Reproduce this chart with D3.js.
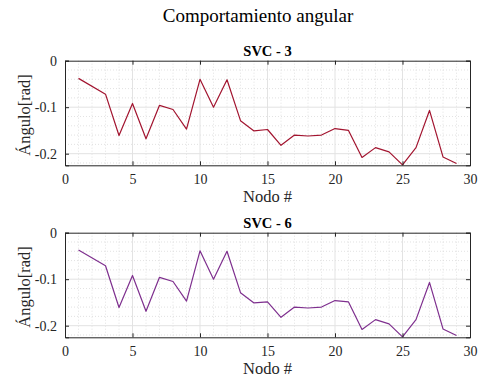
<!DOCTYPE html>
<html>
<head>
<meta charset="utf-8">
<script src="https://cdn.jsdelivr.net/npm/d3@7"></script>
<style>
  body { margin: 0; background: #fff; font-family: "Liberation Serif", serif; }
  svg { display: block; }
  text { font-family: "Liberation Serif", serif; }
  .major line { stroke: #e3e3e3; stroke-width: 1; }
  .minor line { stroke: #d6d6d6; stroke-width: 0.7; stroke-dasharray: 1 2; }
</style>
</head>
<body>
<div id="chart"></div>
<script>
// nodes (node 2 not reported)
const nodes = [1, 3, 4, 5, 6, 7, 8, 9, 10, 11, 12, 13, 14, 15, 16, 17, 18, 19, 20,
  21, 22, 23, 24, 25, 26, 27, 28, 29];

const svc3 = [-0.038, -0.072, -0.161, -0.092, -0.168, -0.096, -0.105, -0.147, -0.040,
  -0.100, -0.041, -0.129, -0.151, -0.148, -0.182, -0.160, -0.162, -0.160, -0.146,
  -0.150, -0.208, -0.187, -0.196, -0.224, -0.187, -0.107, -0.207, -0.221];

const svc6 = [-0.037, -0.071, -0.161, -0.092, -0.169, -0.096, -0.105, -0.147, -0.039,
  -0.100, -0.040, -0.129, -0.151, -0.149, -0.182, -0.160, -0.162, -0.160, -0.146,
  -0.149, -0.208, -0.187, -0.196, -0.224, -0.187, -0.107, -0.207, -0.221];

const xTicks = [0, 5, 10, 15, 20, 25, 30];
const yTicks = [0, -0.1, -0.2];

const panels = [
  { title: "SVC - 3", values: svc3, color: "#A2142F", top: 60.7 },
  { title: "SVC - 6", values: svc6, color: "#7E2F8E", top: 232.7 },
];

const FONT = "Liberation Serif";
const width = 480, height = 378;
const plotW = { left: 65, right: 470 };
const plotH = 104.6;

const svg = d3.select("#chart").append("svg")
  .attr("width", width).attr("height", height)
  .attr("font-family", FONT);

svg.append("text")
  .attr("x", 258).attr("y", 22)
  .attr("text-anchor", "middle")
  .attr("font-size", 19)
  .attr("fill", "#000")
  .text("Comportamiento angular");

const x = d3.scaleLinear().domain([0, 30]).range([plotW.left, plotW.right]);

panels.forEach((p) => {
  const y = d3.scaleLinear().domain([-0.225, 0]).range([p.top + plotH, p.top]);
  const g = svg.append("g");
  const x0 = plotW.left, x1 = plotW.right, y0 = p.top, y1 = p.top + plotH;

  // minor grid
  const minor = g.append("g").attr("class", "minor");
  minor.selectAll(".mx").data(d3.range(1, 30).filter((d) => d % 5 !== 0))
    .join("line")
    .attr("x1", (d) => x(d)).attr("x2", (d) => x(d))
    .attr("y1", y0).attr("y2", y1);
  minor.selectAll(".my").data(d3.range(-0.22, 0, 0.02).filter((d) => Math.abs(Math.round(d * 10) - d * 10) > 1e-6))
    .join("line")
    .attr("x1", x0).attr("x2", x1)
    .attr("y1", (d) => y(d)).attr("y2", (d) => y(d));

  // major grid
  const major = g.append("g").attr("class", "major");
  major.selectAll(".gx").data(xTicks.slice(1, -1)).join("line")
    .attr("x1", (d) => x(d)).attr("x2", (d) => x(d))
    .attr("y1", y0).attr("y2", y1);
  major.selectAll(".gy").data(yTicks.slice(1)).join("line")
    .attr("x1", x0).attr("x2", x1)
    .attr("y1", (d) => y(d)).attr("y2", (d) => y(d));

  // data line
  g.append("path")
    .datum(nodes.map((n, i) => [n, p.values[i]]))
    .attr("fill", "none")
    .attr("stroke", p.color)
    .attr("stroke-width", 1.2)
    .attr("stroke-linejoin", "round")
    .attr("d", d3.line().x((d) => x(d[0])).y((d) => y(d[1])));

  // axes (ticks inward, box)
  const tick = 4;
  const styleAxis = (a) => {
    a.attr("font-family", null);
    a.select(".domain").attr("stroke", "#262626");
    a.selectAll(".tick line").attr("stroke", "#262626");
    a.selectAll(".tick text").attr("font-size", 14).attr("fill", "#262626");
  };
  g.append("g")
    .attr("transform", `translate(0,${y1})`)
    .call(d3.axisBottom(x).tickValues(xTicks).tickSize(-tick).tickPadding(9))
    .call(styleAxis);
  g.append("g")
    .attr("transform", `translate(0,${y0})`)
    .call(d3.axisTop(x).tickValues(xTicks).tickSize(-tick).tickFormat(""))
    .call(styleAxis);
  g.append("g")
    .attr("transform", `translate(${x0},0)`)
    .call(d3.axisLeft(y).tickValues(yTicks).tickSize(-tick).tickPadding(8)
      .tickFormat((d) => (d === 0 ? "0" : d3.format(".1f")(d).replace("−", "-"))))
    .call(styleAxis);
  g.append("g")
    .attr("transform", `translate(${x1},0)`)
    .call(d3.axisRight(y).tickValues(yTicks).tickSize(-tick).tickFormat(""))
    .call(styleAxis);

  // titles and labels
  g.append("text")
    .attr("x", (x0 + x1) / 2).attr("y", y0 - 5)
    .attr("text-anchor", "middle")
    .attr("font-size", 14.5).attr("font-weight", "bold")
    .text(p.title);
  g.append("text")
    .attr("x", (x0 + x1) / 2).attr("y", y1 + 37)
    .attr("text-anchor", "middle")
    .attr("font-size", 16.5).attr("fill", "#262626")
    .text("Nodo #");
  g.append("text")
    .attr("transform", `translate(30,${(y0 + y1) / 2 + 2}) rotate(-90)`)
    .attr("text-anchor", "middle")
    .attr("font-size", 16.5).attr("fill", "#262626")
    .text("Ángulo[rad]");
});
</script>
</body>
</html>
